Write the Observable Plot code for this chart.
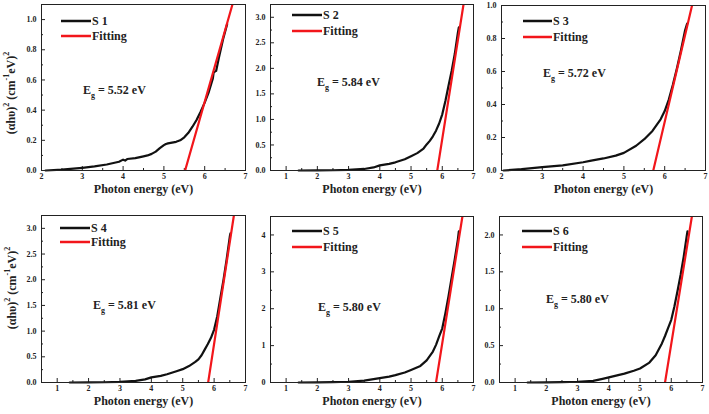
<!DOCTYPE html>
<html><head><meta charset="utf-8">
<script src="https://cdn.jsdelivr.net/npm/d3@7"></script>
<script src="https://cdn.jsdelivr.net/npm/@observablehq/plot@0.6"></script>
<style>
body{margin:0;background:#fff;}
#root{position:relative;width:709px;height:414px;overflow:hidden;background:#fff;}
.panel{position:absolute;}
.panel svg{display:block;}
</style></head><body><div id="root"></div>
<script>
// ---- data ----
const sampleNames = ["S 1", "S 2", "S 3", "S 4", "S 5", "S 6"];
const egValues = [5.52, 5.84, 5.72, 5.81, 5.80, 5.80];
const egLabels = ["5.52", "5.84", "5.72", "5.81", "5.80", "5.80"];
const fitTopX = [6.68, 6.68, 6.67, 6.63, 6.645, 6.66];
const xDomainMin = [2, 0.5, 2, 0.5, 0.5, 0.5];
const xDomainMax = [7, 7, 7, 7, 7, 7];
const yDomainMax = [1.1, 3.25, 1.0, 3.25, 4.5, 2.25];

const xTicks = [[2,3,4,5,6,7],[1,2,3,4,5,6,7],[2,3,4,5,6,7],[1,2,3,4,5,6,7],[1,2,3,4,5,6,7],[1,2,3,4,5,6,7]];
const xMinorTicks = [[2.5,3.5,4.5,5.5,6.5],[1.5,2.5,3.5,4.5,5.5,6.5],[2.5,3.5,4.5,5.5,6.5],[1.5,2.5,3.5,4.5,5.5,6.5],[1.5,2.5,3.5,4.5,5.5,6.5],[1.5,2.5,3.5,4.5,5.5,6.5]];
const yTicks = [[0,0.2,0.4,0.6,0.8,1.0],[0,0.5,1,1.5,2,2.5,3],[0,0.2,0.4,0.6,0.8,1.0],[0,0.5,1,1.5,2,2.5,3],[0,1,2,3,4],[0,0.5,1,1.5,2]];
const yMinorTicks = [[0.1,0.3,0.5,0.7,0.9],[0.25,0.75,1.25,1.75,2.25,2.75],[0.1,0.3,0.5,0.7,0.9],[0.25,0.75,1.25,1.75,2.25,2.75],[0.5,1.5,2.5,3.5],[0.25,0.75,1.25,1.75]];
const yTickFormats = ["0.0", "0.0", "0.0", "0.0", "0", "0.0"];

const s1x = [2.1,2.5,3.0,3.3,3.6,3.9,4.0,4.05,4.1,4.3,4.5,4.6,4.7,4.8,4.9,5.0,5.05,5.1,5.2,5.3,5.4,5.5,5.6,5.7,5.8,5.9,6.0,6.1,6.2,6.22,6.28,6.35,6.45,6.55];
const s1y = [0,0.006,0.018,0.027,0.04,0.058,0.072,0.066,0.076,0.082,0.094,0.1,0.11,0.125,0.148,0.168,0.176,0.18,0.185,0.19,0.2,0.22,0.25,0.29,0.335,0.39,0.45,0.52,0.61,0.65,0.66,0.75,0.87,0.97];
const s2x = [1.4,2.0,2.5,3.0,3.5,3.8,4.0,4.3,4.5,4.8,5.0,5.2,5.4,5.5,5.6,5.7,5.8,5.9,6.0,6.1,6.2,6.3,6.4,6.5,6.53];
const s2y = [0,0.002,0.005,0.012,0.03,0.06,0.1,0.13,0.16,0.22,0.28,0.34,0.43,0.51,0.58,0.67,0.78,0.92,1.1,1.36,1.66,1.95,2.28,2.7,2.8];
const s3x = [2.05,2.5,3.0,3.5,4.0,4.2,4.5,4.8,5.0,5.3,5.5,5.7,5.9,6.0,6.1,6.2,6.3,6.4,6.5,6.55];
const s3y = [0,0.008,0.02,0.031,0.05,0.06,0.073,0.09,0.107,0.15,0.19,0.24,0.31,0.36,0.43,0.52,0.62,0.73,0.85,0.89];
const s4x = [1.4,2.0,2.5,3.0,3.5,3.8,4.0,4.3,4.5,4.8,5.0,5.2,5.4,5.5,5.6,5.7,5.8,5.9,6.0,6.1,6.2,6.3,6.4,6.5,6.52];
const s4y = [0,0.002,0.005,0.012,0.03,0.06,0.1,0.13,0.16,0.22,0.26,0.32,0.4,0.45,0.53,0.64,0.75,0.87,1.03,1.29,1.65,2.0,2.4,2.84,2.9];
const s5x = [1.4,2.0,2.5,3.0,3.5,3.8,4.0,4.3,4.5,4.8,5.0,5.3,5.5,5.7,5.8,5.9,6.0,6.1,6.2,6.3,6.4,6.5,6.53];
const s5y = [0,0.003,0.008,0.02,0.05,0.09,0.12,0.16,0.2,0.27,0.34,0.45,0.6,0.84,1.02,1.25,1.47,1.88,2.34,2.84,3.34,3.88,4.1];
const s6x = [1.4,2.0,2.5,3.0,3.5,3.8,4.0,4.3,4.5,4.8,5.0,5.3,5.5,5.7,5.8,5.9,6.0,6.1,6.2,6.3,6.4,6.5,6.52];
const s6y = [0,0.002,0.004,0.01,0.022,0.05,0.07,0.1,0.12,0.16,0.19,0.27,0.37,0.53,0.63,0.74,0.85,1.03,1.24,1.46,1.71,2.0,2.05];
const seriesX = [s1x, s2x, s3x, s4x, s5x, s6x];
const seriesY = [s1y, s2y, s3y, s4y, s5y, s6y];

const xLabel = "Photon energy (eV)";
const legendFitLabel = "Fitting";

// ---- layout (pixels) ----
const layout = [
  {left:0,   top:0,   w:250, h:205, mL:41, mR:5, mT:4,  mB:35, lg:[20,50,17,32], egPos:[42,86], yLab:[12,93]},
  {left:250, top:0,   w:229, h:205, mL:20, mR:6, mT:4,  mB:35, lg:[22,52,11,27], egPos:[47,78]},
  {left:479, top:0,   w:230, h:205, mL:22, mR:4, mT:5,  mB:35, lg:[22,51,16,32], egPos:[42,68]},
  {left:0,   top:205, w:250, h:209, mL:41, mR:5, mT:10, mB:32, lg:[19,49,13,27], egPos:[52,90], yLab:[13,83]},
  {left:250, top:205, w:229, h:209, mL:20, mR:6, mT:11, mB:32, lg:[22,52,15,31], egPos:[48,91]},
  {left:479, top:205, w:230, h:209, mL:20, mR:7, mT:11, mB:32, lg:[23,53,15,31], egPos:[47,83]}
];
const RED = "#f2161b";
const INK = "#111";
const FONT = "'Liberation Serif', 'Times New Roman', serif";

const root = document.getElementById("root");

layout.forEach((L, i) => {
  const pts = seriesX[i].map((x, j) => ({x, y: seriesY[i][j]}));
  const fit = [{x: egValues[i], y: 0}, {x: fitTopX[i], y: yDomainMax[i]}];
  const svg = Plot.plot({
    width: L.w, height: L.h,
    marginLeft: L.mL, marginRight: L.mR, marginTop: L.mT, marginBottom: L.mB,
    style: {fontFamily: FONT, fontWeight: "bold", fontSize: "8px", color: "#222", background: "transparent", overflow: "visible"},
    x: {domain: [xDomainMin[i], xDomainMax[i]], label: null},
    y: {domain: [0, yDomainMax[i]], label: null},
    marks: [
      Plot.axisX(xMinorTicks[i], {tickSize: 2, dy: -2, fill: "none", label: null}),
      Plot.axisX(xTicks[i], {tickSize: 4, dy: -4, fill: "none", label: null}),
      Plot.axisX(xTicks[i], {tickSize: 0, tickPadding: 3, tickFormat: d3.format("d"), label: null}),
      Plot.axisY(yMinorTicks[i], {tickSize: 2, dx: 2, fill: "none", label: null}),
      Plot.axisY(yTicks[i], {tickSize: 4, dx: 4, fill: "none", label: null}),
      Plot.axisY(yTicks[i], {tickSize: 0, tickPadding: 5, tickFormat: d3.format(yTickFormats[i] === "0" ? "d" : ".1f"), label: null}),
      Plot.line(pts, {x: "x", y: "y", stroke: INK, strokeWidth: 2.2}),
      Plot.line(fit, {x: "x", y: "y", stroke: RED, strokeWidth: 2.2, clip: true}),
      Plot.frame({stroke: "#222", strokeWidth: 1}),
      Plot.text([xLabel], {frameAnchor: "bottom", dy: 22, fontSize: 12, fontWeight: "bold", fill: "#222"})
    ]
  });
  const g = d3.select(svg).append("g").attr("font-family", FONT).attr("font-weight", "bold").attr("fill", "#222").attr("text-anchor", "start");
  // legend
  const [lx1, lx2, ly1, ly2] = L.lg;
  const fx = L.mL, fy = L.mT;
  g.append("line").attr("x1", fx + lx1).attr("x2", fx + lx2).attr("y1", fy + ly1).attr("y2", fy + ly1).attr("stroke", INK).attr("stroke-width", 2.5);
  g.append("text").attr("x", fx + lx2 + 1).attr("y", fy + ly1 + 4).attr("font-size", 12).text(sampleNames[i]);
  g.append("line").attr("x1", fx + lx1).attr("x2", fx + lx2).attr("y1", fy + ly2).attr("y2", fy + ly2).attr("stroke", RED).attr("stroke-width", 2.5);
  g.append("text").attr("x", fx + lx2 + 1).attr("y", fy + ly2 + 4).attr("font-size", 12).text(legendFitLabel);
  // Eg annotation
  const t = g.append("text").attr("x", fx + L.egPos[0]).attr("y", fy + L.egPos[1] + 4).attr("font-size", 12);
  t.append("tspan").text("E");
  t.append("tspan").attr("font-size", 8).attr("dy", 4).text("g");
  t.append("tspan").attr("dy", -4).text(" = " + egLabels[i] + " eV");
  // y label
  if (L.yLab) {
    const yl = g.append("text").attr("transform", `translate(${L.yLab[0]},${L.yLab[1]}) rotate(-90)`).attr("text-anchor", "middle").attr("dominant-baseline", "middle").attr("font-size", 12);
    yl.append("tspan").text("(αhυ)");
    yl.append("tspan").attr("font-size", 8).attr("dy", -5).text("2");
    yl.append("tspan").attr("dy", 5).text(" (cm");
    yl.append("tspan").attr("font-size", 8).attr("dy", -5).text("-1");
    yl.append("tspan").attr("dy", 5).text("eV)");
    yl.append("tspan").attr("font-size", 8).attr("dy", -5).text("2");
  }
  const div = document.createElement("div");
  div.className = "panel";
  div.style.left = L.left + "px";
  div.style.top = L.top + "px";
  div.appendChild(svg);
  root.appendChild(div);
});
</script>
</body></html>
